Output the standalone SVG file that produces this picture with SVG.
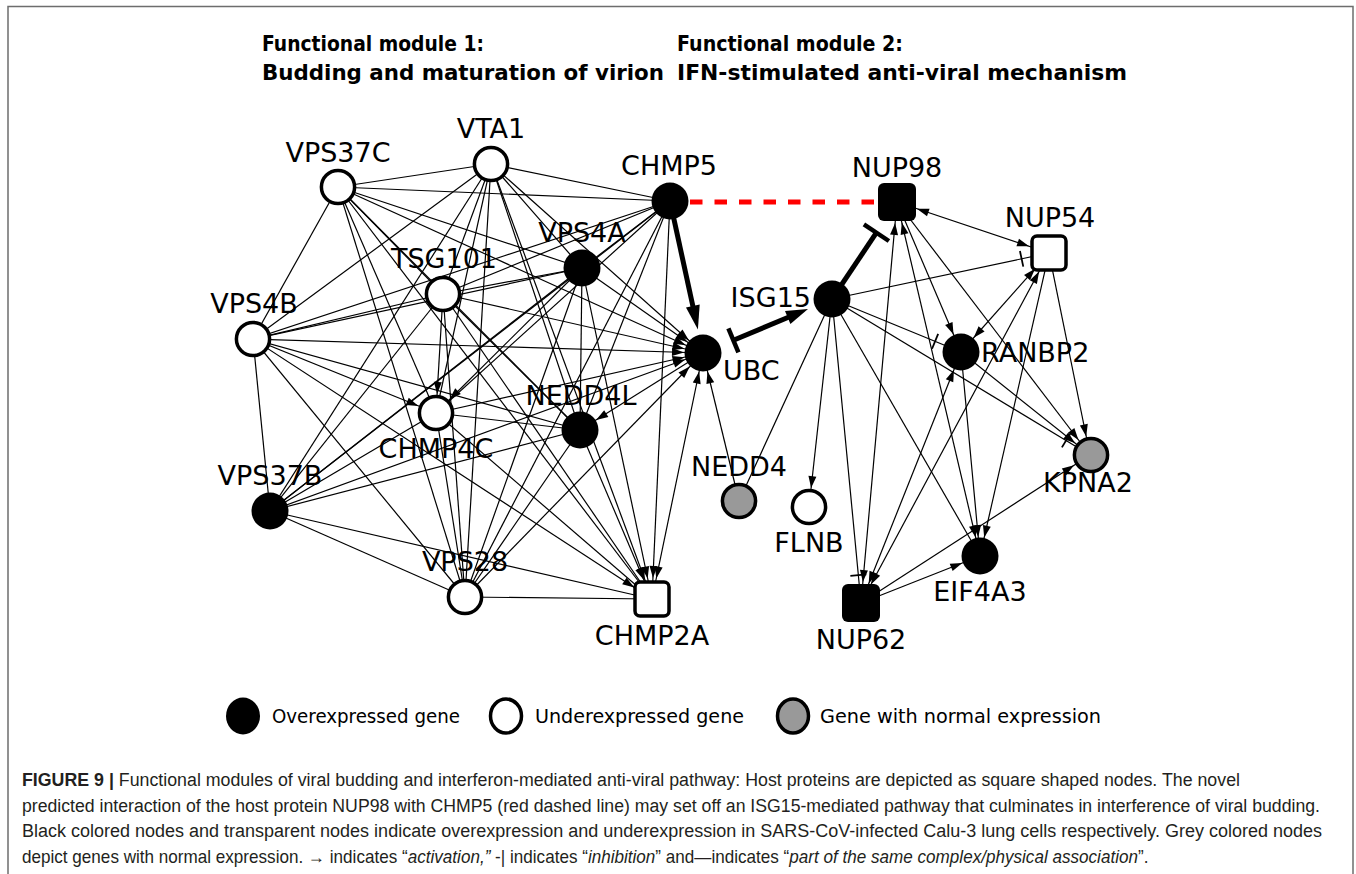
<svg xmlns="http://www.w3.org/2000/svg" width="1356" height="874" viewBox="0 0 1356 874">
  <style>
    .lbl { font-family: "DejaVu Sans", Verdana, sans-serif; font-size: 27px; fill: #000; }
    .ttl { font-family: "DejaVu Sans", Verdana, sans-serif; font-size: 21px; font-weight: bold; fill: #000; }
    .leg { font-family: "DejaVu Sans Condensed", "DejaVu Sans", sans-serif; font-size: 20px; fill: #000; }
    .cap { font-family: "Liberation Sans", Arial, sans-serif; font-size: 18px; fill: #231f20; }
    .it { font-style: italic; }
    .e { stroke: #000; stroke-width: 1.2; fill: none; }
    .thick { stroke: #000; stroke-width: 5; fill: none; }
    .ow { fill: #fff; stroke: #000; stroke-width: 3.5; }
    .og { fill: #999; stroke: #000; stroke-width: 3.5; }
    .ob { fill: #000; }
  </style>
  <defs>
    <!-- arrowhead ending at a circle's rim -->
    <marker id="ac" viewBox="-40 -10 50 20" refX="0" refY="0" markerWidth="50" markerHeight="20" markerUnits="userSpaceOnUse" orient="auto-start-reverse">
      <path d="M-19,0 L-31,-4 L-31,4 z" fill="#000"/>
    </marker>
    <!-- arrowhead ending at a square's edge -->
    <marker id="aq" viewBox="-40 -10 50 20" refX="0" refY="0" markerWidth="50" markerHeight="20" markerUnits="userSpaceOnUse" orient="auto-start-reverse">
      <path d="M-21,0 L-33,-4 L-33,4 z" fill="#000"/>
    </marker>
    <!-- inhibition bar -->
    <marker id="tc" viewBox="-40 -12 50 24" refX="0" refY="0" markerWidth="50" markerHeight="24" markerUnits="userSpaceOnUse" orient="auto-start-reverse">
      <path d="M-28,-8 L-28,8" stroke="#000" stroke-width="1.8"/>
    </marker>
  </defs>

  <!-- figure frame -->
  <rect x="8" y="6.5" width="1345" height="900" fill="none" stroke="#6d6d6d" stroke-width="1.5"/>

  <!-- module headings -->
  <text class="ttl" x="262" y="51" textLength="222" lengthAdjust="spacingAndGlyphs">Functional module 1:</text>
  <text class="ttl" x="262" y="80" textLength="402" lengthAdjust="spacingAndGlyphs">Budding and maturation of virion</text>
  <text class="ttl" x="677" y="51" textLength="226" lengthAdjust="spacingAndGlyphs">Functional module 2:</text>
  <text class="ttl" x="677" y="80" textLength="450" lengthAdjust="spacingAndGlyphs">IFN-stimulated anti-viral mechanism</text>

  <g id="connectors">
    <!-- module 1: ESCRT interactions -->
    <line class="e" x1="491" y1="164" x2="338" y2="187"/>
    <line class="e" x1="491" y1="164" x2="670" y2="201"/>
    <line class="e" x1="491" y1="164" x2="582" y2="268"/>
    <line class="e" x1="491" y1="164" x2="443" y2="294"/>
    <line class="e" x1="491" y1="164" x2="253" y2="339"/>
    <line class="e" x1="491" y1="164" x2="436" y2="413"/>
    <line class="e" x1="491" y1="164" x2="580" y2="430"/>
    <line class="e" x1="491" y1="164" x2="270" y2="511"/>
    <line class="e" x1="491" y1="164" x2="465" y2="597"/>
    <line class="e" x1="491" y1="164" x2="652" y2="599" marker-end="url(#aq)"/>
    <line class="e" x1="338" y1="187" x2="670" y2="201"/>
    <line class="e" x1="338" y1="187" x2="582" y2="268"/>
    <line class="e" x1="338" y1="187" x2="443" y2="294"/>
    <line class="e" x1="338" y1="187" x2="253" y2="339"/>
    <line class="e" x1="338" y1="187" x2="436" y2="413"/>
    <line class="e" x1="338" y1="187" x2="580" y2="430"/>
    <line class="e" x1="338" y1="187" x2="465" y2="597"/>
    <line class="e" x1="338" y1="187" x2="652" y2="599"/>
    <line class="e" x1="670" y1="201" x2="582" y2="268"/>
    <line class="e" x1="670" y1="201" x2="443" y2="294"/>
    <line class="e" x1="670" y1="201" x2="253" y2="339"/>
    <line class="e" x1="670" y1="201" x2="436" y2="413"/>
    <line class="e" x1="670" y1="201" x2="580" y2="430"/>
    <line class="e" x1="670" y1="201" x2="270" y2="511"/>
    <line class="e" x1="670" y1="201" x2="465" y2="597"/>
    <line class="e" x1="670" y1="201" x2="652" y2="599" marker-end="url(#aq)"/>
    <line class="e" x1="582" y1="268" x2="443" y2="294"/>
    <line class="e" x1="582" y1="268" x2="253" y2="339"/>
    <line class="e" x1="582" y1="268" x2="436" y2="413" marker-end="url(#ac)"/>
    <line class="e" x1="582" y1="268" x2="580" y2="430"/>
    <line class="e" x1="582" y1="268" x2="270" y2="511"/>
    <line class="e" x1="582" y1="268" x2="465" y2="597"/>
    <line class="e" x1="582" y1="268" x2="652" y2="599" marker-end="url(#aq)"/>
    <line class="e" x1="443" y1="294" x2="253" y2="339"/>
    <line class="e" x1="443" y1="294" x2="436" y2="413" marker-end="url(#ac)"/>
    <line class="e" x1="443" y1="294" x2="580" y2="430"/>
    <line class="e" x1="443" y1="294" x2="270" y2="511"/>
    <line class="e" x1="443" y1="294" x2="465" y2="597"/>
    <line class="e" x1="443" y1="294" x2="652" y2="599"/>
    <line class="e" x1="253" y1="339" x2="436" y2="413" marker-end="url(#ac)"/>
    <line class="e" x1="253" y1="339" x2="580" y2="430"/>
    <line class="e" x1="253" y1="339" x2="270" y2="511"/>
    <line class="e" x1="253" y1="339" x2="465" y2="597"/>
    <line class="e" x1="253" y1="339" x2="652" y2="599" marker-end="url(#aq)"/>
    <line class="e" x1="436" y1="413" x2="580" y2="430"/>
    <line class="e" x1="436" y1="413" x2="270" y2="511"/>
    <line class="e" x1="436" y1="413" x2="465" y2="597"/>
    <line class="e" x1="436" y1="413" x2="652" y2="599"/>
    <line class="e" x1="580" y1="430" x2="270" y2="511"/>
    <line class="e" x1="580" y1="430" x2="465" y2="597"/>
    <line class="e" x1="580" y1="430" x2="652" y2="599" marker-end="url(#aq)"/>
    <line class="e" x1="270" y1="511" x2="465" y2="597"/>
    <line class="e" x1="270" y1="511" x2="652" y2="599"/>
    <line class="e" x1="465" y1="597" x2="652" y2="599"/>

    <!-- module 1: links into UBC -->
    <line class="e" x1="491" y1="164" x2="703" y2="353" marker-end="url(#ac)"/>
    <line class="e" x1="338" y1="187" x2="703" y2="353" marker-end="url(#ac)"/>
    <line class="e" x1="582" y1="268" x2="703" y2="353" marker-end="url(#ac)"/>
    <line class="e" x1="443" y1="294" x2="703" y2="353" marker-end="url(#ac)"/>
    <line class="e" x1="253" y1="339" x2="703" y2="353" marker-end="url(#ac)"/>
    <line class="e" x1="436" y1="413" x2="703" y2="353" marker-end="url(#ac)"/>
    <line class="e" x1="270" y1="511" x2="703" y2="353" marker-end="url(#ac)"/>
    <line class="e" x1="465" y1="597" x2="703" y2="353" marker-end="url(#ac)"/>
    <line class="e" x1="703" y1="353" x2="580" y2="430" marker-end="url(#ac)"/>
    <line class="e" x1="652" y1="599" x2="703" y2="353" marker-start="url(#aq)" marker-end="url(#ac)"/>
    <line class="e" x1="739" y1="501" x2="703" y2="353" marker-end="url(#ac)"/>

    <!-- module 2: interferon pathway -->
    <line class="e" x1="832" y1="299" x2="1049" y2="253" marker-end="url(#tc)"/>
    <line class="e" x1="832" y1="299" x2="961" y2="352" marker-end="url(#tc)"/>
    <line class="e" x1="832" y1="299" x2="1090" y2="455" marker-end="url(#tc)"/>
    <line class="e" x1="832" y1="299" x2="739" y2="501"/>
    <line class="e" x1="832" y1="299" x2="809" y2="507" marker-end="url(#ac)"/>
    <line class="e" x1="832" y1="299" x2="861" y2="603" marker-end="url(#tc)"/>
    <line class="e" x1="832" y1="299" x2="980" y2="556"/>
    <line class="e" x1="897" y1="202" x2="1049" y2="253" marker-start="url(#aq)" marker-end="url(#aq)"/>
    <line class="e" x1="897" y1="202" x2="961" y2="352" marker-end="url(#ac)"/>
    <line class="e" x1="980" y1="556" x2="897" y2="202" marker-start="url(#ac)" marker-end="url(#aq)"/>
    <line class="e" x1="897" y1="202" x2="861" y2="603" marker-start="url(#aq)" marker-end="url(#aq)"/>
    <line class="e" x1="897" y1="202" x2="1090" y2="455" marker-end="url(#ac)"/>
    <line class="e" x1="1049" y1="253" x2="961" y2="352" marker-start="url(#aq)" marker-end="url(#ac)"/>
    <line class="e" x1="1049" y1="253" x2="861" y2="603" marker-start="url(#aq)" marker-end="url(#aq)"/>
    <line class="e" x1="1049" y1="253" x2="1090" y2="455" marker-end="url(#ac)"/>
    <line class="e" x1="1049" y1="253" x2="980" y2="556" marker-end="url(#ac)"/>
    <line class="e" x1="961" y1="352" x2="1090" y2="455" marker-end="url(#ac)"/>
    <line class="e" x1="961" y1="352" x2="980" y2="556" marker-end="url(#ac)"/>
    <line class="e" x1="861" y1="603" x2="961" y2="352" marker-start="url(#aq)" marker-end="url(#ac)"/>
    <line class="e" x1="861" y1="603" x2="980" y2="556" marker-end="url(#ac)"/>
    <line class="e" x1="861" y1="603" x2="1090" y2="455" marker-end="url(#ac)"/>

    <!-- predicted NUP98 - CHMP5 interaction -->
    <line x1="690" y1="202" x2="878" y2="202" stroke="#ff0000" stroke-width="5" stroke-dasharray="12.5 12"/>

    <!-- CHMP5 activates UBC -->
    <line class="thick" x1="670" y1="201" x2="693.6" y2="309.5"/>
    <polygon points="697.9,329.5 699.7,304.5 686.0,307.5" fill="#000"/>

    <!-- UBC / ISG15 -->
    <line class="thick" x1="733.4" y1="340.3" x2="792" y2="315.7"/>
    <line x1="728.4" y1="328.3" x2="738.4" y2="352.3" stroke="#000" stroke-width="4.5"/>
    <polygon points="808,309 790.4,324 785,311" fill="#000"/>

    <!-- ISG15 inhibits NUP98 -->
    <line class="thick" x1="832" y1="299" x2="876.4" y2="232.7"/>
    <line x1="863.9" y1="224.4" x2="888.9" y2="241.0" stroke="#000" stroke-width="4.5"/>
  </g>

  <!-- module 1 nodes -->
  <g id="VTA1"><circle class="ow" cx="491" cy="164" r="16.6"/><text class="lbl" x="491" y="138" text-anchor="middle">VTA1</text></g>
  <g id="VPS37C"><circle class="ow" cx="338" cy="187" r="16.6"/><text class="lbl" x="338" y="162" text-anchor="middle">VPS37C</text></g>
  <g id="CHMP5"><circle class="ob" cx="670" cy="201" r="18.5"/><text class="lbl" x="669" y="175" text-anchor="middle">CHMP5</text></g>
  <g id="VPS4A"><circle class="ob" cx="582" cy="268" r="18.5"/><text class="lbl" x="582" y="242" text-anchor="middle">VPS4A</text></g>
  <g id="TSG101"><circle class="ow" cx="443" cy="294" r="16.6"/><text class="lbl" x="444" y="268" text-anchor="middle">TSG101</text></g>
  <g id="VPS4B"><circle class="ow" cx="253" cy="339" r="16.6"/><text class="lbl" x="254" y="313" text-anchor="middle">VPS4B</text></g>
  <g id="UBC"><circle class="ob" cx="703" cy="353" r="18.5"/><text class="lbl" x="723" y="380">UBC</text></g>
  <g id="CHMP4C"><circle class="ow" cx="436" cy="413" r="16.6"/><text class="lbl" x="436" y="458" text-anchor="middle">CHMP4C</text></g>
  <g id="NEDD4L"><circle class="ob" cx="580" cy="430" r="18.5"/><text class="lbl" x="581" y="405" text-anchor="middle">NEDD4L</text></g>
  <g id="VPS37B"><circle class="ob" cx="270" cy="511" r="18.5"/><text class="lbl" x="270" y="485" text-anchor="middle">VPS37B</text></g>
  <g id="VPS28"><circle class="ow" cx="465" cy="597" r="16.6"/><text class="lbl" x="465" y="571" text-anchor="middle">VPS28</text></g>
  <g id="CHMP2A"><rect class="ow" x="635" y="582" width="34" height="34" rx="5"/><text class="lbl" x="652" y="645" text-anchor="middle">CHMP2A</text></g>

  <!-- module 2 nodes -->
  <g id="NUP98"><rect class="ob" x="878" y="183" width="38" height="38" rx="6"/><text class="lbl" x="897" y="177" text-anchor="middle">NUP98</text></g>
  <g id="NUP54"><rect class="ow" x="1032" y="236" width="34" height="34" rx="5"/><text class="lbl" x="1050" y="227" text-anchor="middle">NUP54</text></g>
  <g id="ISG15"><circle class="ob" cx="832" cy="299" r="18.5"/><text class="lbl" x="811" y="307" text-anchor="end">ISG15</text></g>
  <g id="RANBP2"><circle class="ob" cx="961" cy="352" r="18.5"/><text class="lbl" x="981" y="362">RANBP2</text></g>
  <g id="NEDD4"><circle class="og" cx="739" cy="501" r="16.6"/><text class="lbl" x="739" y="476" text-anchor="middle">NEDD4</text></g>
  <g id="FLNB"><circle class="ow" cx="809" cy="507" r="16.6"/><text class="lbl" x="809" y="552" text-anchor="middle">FLNB</text></g>
  <g id="NUP62"><rect class="ob" x="842" y="584" width="38" height="38" rx="6"/><text class="lbl" x="861" y="649" text-anchor="middle">NUP62</text></g>
  <g id="EIF4A3"><circle class="ob" cx="980" cy="556" r="18.5"/><text class="lbl" x="980" y="601" text-anchor="middle">EIF4A3</text></g>
  <g id="KPNA2"><circle class="og" cx="1091" cy="455" r="16.6"/><text class="lbl" x="1088" y="492" text-anchor="middle">KPNA2</text></g>

  <!-- legend -->
  <g id="legend">
    <ellipse class="ob" cx="243" cy="716" rx="17" ry="18.5"/>
    <text class="leg" x="272" y="723" textLength="188" lengthAdjust="spacingAndGlyphs">Overexpressed gene</text>
    <ellipse class="ow" cx="506" cy="716" rx="15.5" ry="17"/>
    <text class="leg" x="535" y="723" textLength="209" lengthAdjust="spacingAndGlyphs">Underexpressed gene</text>
    <ellipse class="og" cx="793" cy="716" rx="15.5" ry="17"/>
    <text class="leg" x="820" y="723" textLength="281" lengthAdjust="spacingAndGlyphs">Gene with normal expression</text>
  </g>

  <!-- caption -->
  <g id="caption">
    <text class="cap" x="22" y="786" textLength="1218" lengthAdjust="spacingAndGlyphs"><tspan font-weight="bold">FIGURE 9 |</tspan> Functional modules of viral budding and interferon-mediated anti-viral pathway: Host proteins are depicted as square shaped nodes. The novel</text>
    <text class="cap" x="22" y="812" textLength="1298" lengthAdjust="spacingAndGlyphs">predicted interaction of the host protein NUP98 with CHMP5 (red dashed line) may set off an ISG15-mediated pathway that culminates in interference of viral budding.</text>
    <text class="cap" x="22" y="837" textLength="1300" lengthAdjust="spacingAndGlyphs">Black colored nodes and transparent nodes indicate overexpression and underexpression in SARS-CoV-infected Calu-3 lung cells respectively. Grey colored nodes</text>
    <!-- narrowed horizontally to match the condensed face of the lines above -->
    <text class="cap" x="0" y="0" transform="translate(22,863) scale(0.95,1)">depict genes with normal expression. → indicates “<tspan class="it">activation,”</tspan> -| indicates “<tspan class="it">inhibition</tspan>” and—indicates “<tspan class="it">part of the same complex/physical association</tspan>”.</text>
  </g>
</svg>
